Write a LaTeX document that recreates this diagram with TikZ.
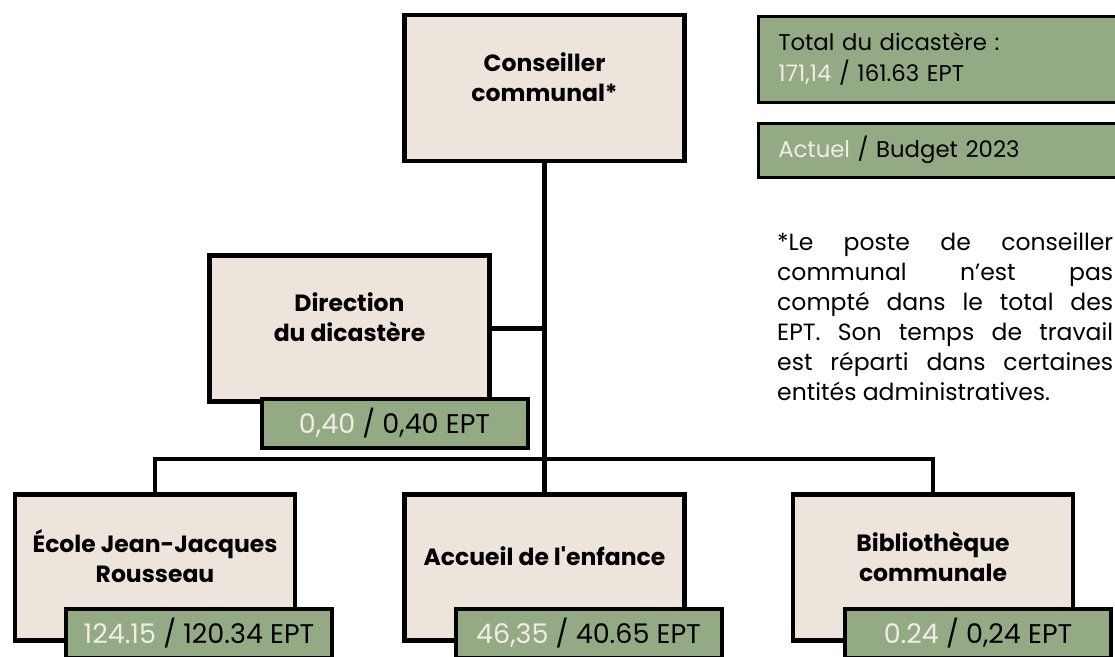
\documentclass[tikz,border=0pt]{standalone}
\usepackage{fontspec}
\setmainfont{Poppins}[Ligatures=NoCommon]
\usetikzlibrary{positioning}
\definecolor{beige}{HTML}{EDE4DB}
\definecolor{sage}{HTML}{94AA84}
\definecolor{cream}{HTML}{F1ECE4}
\tikzset{unit/.style={draw, line width=4.5pt, fill=beige, minimum width=280pt,
           minimum height=146pt, inner sep=0pt},
         title/.style={font=\fontsize{23.5}{30}\selectfont\bfseries, align=center},
         ept/.style={draw, line width=4pt, fill=sage, minimum width=266pt,
           minimum height=49pt, inner sep=0pt, font=\fontsize{27}{30}\selectfont},
         info/.style={draw, line width=2.5pt, fill=sage, anchor=north west,
           align=left, text width=330pt, inner xsep=20pt,
           font=\fontsize{22.8}{30.5}\selectfont},
         note/.style={anchor=north west, align=justify, text width=336pt,
           inner sep=0pt, font=\fontsize{23.5}{30}\selectfont},
         link/.style={line width=4.5pt}}
\newcommand{\act}[1]{\textcolor{cream}{#1}}

\begin{document}
\begin{tikzpicture}[x=1pt,y=-1pt]
   \useasboundingbox (0,0) rectangle (1115,656);
   % boxes of the dicastere
   \node[unit] (cons) at (544.5,88) {};
   \node[title] (cons-t) at ([yshift=11pt]cons.center) {Conseiller\\communal*};
   \node[unit] (dir) at (349.5,328.5) {};
   \node[title] (dir-t) at ([yshift=11pt]dir.center) {Direction\\du dicastère};
   \node[unit] (ecole) at (155,567.5) {};
   \node[title] (ecole-t) at ([yshift=11pt]ecole.center) {École Jean-Jacques\\Rousseau};
   \node[unit] (accueil) at (544.5,567.5) {};
   \node[title] (accueil-t) at ([yshift=11pt]accueil.center) {Accueil de l\textquotesingle enfance};
   \node[unit] (biblio) at (933,567.5) {};
   \node[title] (biblio-t) at ([yshift=11pt]biblio.center) {Bibliothèque\\communale};
   % EPT labels
   \node[ept] (dir-e) at (394.5,423.5) {\act{0,40} / 0,40 EPT};
   \node[ept] (ecole-e) at (199,633.5) {\act{124.15} / 120.34 EPT};
   \node[ept] (accueil-e) at (588.5,633.5) {\act{46,35} / 40.65 EPT};
   \node[ept] (biblio-e) at (978,633.5) {\act{0.24} / 0,24 EPT};
   % links
   \coordinate (bus) at (544,459);
   \draw[link] (cons.south) -- (accueil.north);
   \draw[link] (dir.east) -- (dir.east -| cons.south);
   \draw[link] (ecole.north) |- (bus) -| (biblio.north);
   % legend
   \node[info, minimum height=86pt] (total) at (757,15) {Total du dicastère :\\\act{171,14} / 161.63 EPT};
   \node[info, minimum height=54pt] (legend) at (757,122) {\act{Actuel} / Budget 2023};
   \node[note] (remark) at (777,232) {*Le poste de conseiller\linebreak
      communal n’est pas\linebreak compté dans le total des\linebreak
      EPT. Son temps de travail\linebreak est réparti dans certaines\linebreak
      entités administratives.};
\end{tikzpicture}
\end{document}
